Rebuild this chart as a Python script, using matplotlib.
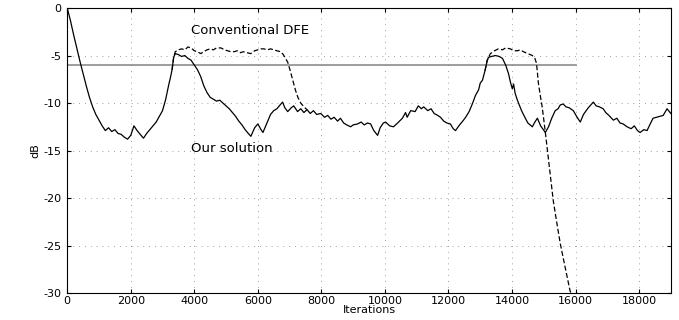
import numpy as np
import matplotlib.pyplot as plt

plt.rcParams['axes.unicode_minus'] = False
plt.rcParams['font.family'] = 'DejaVu Sans'

# "Our solution" curve (iterations, dB)
ours_it = [0, 100, 200, 300, 400, 500, 600, 700, 800, 900, 1000, 1100, 1200, 1300, 1400,
           1500, 1600, 1700, 1800, 1900, 2000, 2100, 2200, 2300, 2400, 2500, 2600, 2700,
           2800, 2900, 3000, 3100, 3200, 3250, 3300, 3350, 3400, 3500, 3600, 3700, 3800,
           3900, 4000, 4100, 4200, 4300, 4400, 4500, 4600, 4700, 4800, 4900, 5000, 5100,
           5200, 5300, 5400, 5500, 5600, 5700, 5780, 5900, 6000, 6100, 6160, 6300, 6400,
           6500, 6600, 6700, 6780, 6850, 6940, 7050, 7130, 7250, 7350, 7450, 7550, 7650,
           7750, 7850, 7980, 8100, 8200, 8300, 8400, 8510, 8600, 8700, 8800, 8920, 9000,
           9140, 9250, 9350, 9450, 9550, 9650, 9770, 9850, 9950, 10020, 10150, 10270,
           10400, 10550, 10650, 10700, 10810, 10950, 11050, 11150, 11220, 11350, 11450,
           11550, 11660, 11750, 11850, 11950, 12060, 12150, 12220, 12350, 12450, 12540,
           12650, 12750, 12850, 12950, 13000, 13070, 13150, 13220, 13260, 13350, 13480,
           13600, 13700, 13800, 13890, 13950, 14010, 14050, 14100, 14170, 14300, 14420,
           14500, 14640, 14720, 14800, 14900, 15050, 15150, 15250, 15360, 15450, 15520,
           15610, 15700, 15800, 15930, 16050, 16150, 16250, 16400, 16560, 16650, 16750,
           16870, 16950, 17050, 17190, 17300, 17400, 17500, 17620, 17750, 17850, 17950,
           18030, 18150, 18250, 18350, 18440, 18550, 18650, 18760, 18880, 19000]
ours_db = [0, -1.3, -2.8, -4.2, -5.6, -6.9, -8.2, -9.4, -10.4, -11.2, -11.8, -12.4, -12.9,
           -12.6, -13.0, -12.8, -13.2, -13.3, -13.6, -13.8, -13.4, -12.4, -12.9, -13.3,
           -13.7, -13.2, -12.8, -12.4, -12.0, -11.4, -10.8, -9.6, -8.0, -7.3, -6.5, -5.2,
           -4.8, -4.9, -5.1, -5.0, -5.3, -5.5, -6.0, -6.5, -7.2, -8.2, -8.9, -9.4, -9.6,
           -9.8, -9.7, -10.0, -10.3, -10.6, -11.0, -11.4, -11.9, -12.3, -12.8, -13.2, -13.5,
           -12.6, -12.2, -12.8, -13.1, -12.0, -11.2, -10.8, -10.6, -10.2, -9.9, -10.5,
           -10.9, -10.5, -10.3, -10.9, -10.6, -11.0, -10.7, -11.1, -10.8, -11.2, -11.1,
           -11.5, -11.3, -11.7, -11.5, -11.9, -11.6, -12.1, -12.3, -12.5, -12.3, -12.2,
           -12.0, -12.3, -12.1, -12.2, -12.9, -13.4, -12.6, -12.1, -12.0, -12.4, -12.5,
           -12.1, -11.6, -11.0, -11.5, -10.8, -10.9, -10.3, -10.6, -10.4, -10.8, -10.6,
           -11.1, -11.3, -11.5, -11.9, -12.1, -12.2, -12.7, -12.9, -12.3, -11.9, -11.5,
           -10.9, -10.1, -9.2, -8.6, -7.9, -7.6, -6.6, -5.5, -5.2, -5.1, -5.0, -5.1, -5.3,
           -6.0, -6.9, -7.8, -8.5, -8.0, -9.0, -9.7, -10.8, -11.6, -12.1, -12.5, -12.0,
           -11.6, -12.4, -13.1, -12.5, -11.6, -10.8, -10.6, -10.2, -10.1, -10.4, -10.5,
           -10.8, -11.5, -12.0, -11.2, -10.5, -9.9, -10.3, -10.4, -10.6, -11.0, -11.3,
           -11.8, -11.6, -12.1, -12.2, -12.5, -12.7, -12.4, -12.9, -13.1, -12.8, -12.9,
           -12.2, -11.6, -11.5, -11.4, -11.3, -10.6, -11.1]

# Conventional DFE, where it departs from our solution
dfe1_it = [3300, 3350, 3400, 3500, 3600, 3700, 3800, 3900, 4000, 4100, 4200, 4300, 4400,
           4500, 4600, 4700, 4840, 4950, 5050, 5150, 5250, 5350, 5450, 5550, 5650, 5780,
           5900, 6000, 6100, 6190, 6300, 6400, 6500, 6600, 6720, 6800, 6870, 6940, 7020,
           7100, 7180, 7260, 7350, 7450, 7550]
dfe1_db = [-6.5, -5.2, -4.6, -4.4, -4.3, -4.4, -4.1, -4.2, -4.5, -4.6, -4.8, -4.6, -4.4,
           -4.3, -4.4, -4.2, -4.2, -4.4, -4.5, -4.6, -4.6, -4.5, -4.7, -4.6, -4.7, -4.8,
           -4.5, -4.4, -4.3, -4.3, -4.4, -4.3, -4.4, -4.5, -4.6, -4.9, -5.3, -5.7, -6.6,
           -7.6, -8.6, -9.4, -10.0, -10.4, -10.7]
dfe2_it = [13150, 13220, 13320, 13450, 13570, 13700, 13800, 13950, 14050, 14170, 14260,
           14360, 14500, 14640, 14720, 14770, 14800, 14830, 14890, 14950, 15050, 15140,
           15220, 15300, 15410, 15520, 15680, 15830, 15860]
dfe2_db = [-6.6, -5.5, -4.8, -4.5, -4.3, -4.4, -4.2, -4.3, -4.5, -4.5, -4.4, -4.6, -4.8,
           -5.0, -5.3, -5.8, -6.8, -7.9, -9.2, -10.4, -13.1, -15.7, -18.0, -20.3, -22.6,
           -24.8, -27.4, -29.8, -30.0]

threshold = -6
threshold_end = 16000

fig = plt.figure(figsize=(6.79, 3.2), dpi=100)
ax = fig.add_axes([0.099, 0.084, 0.889, 0.891])

ax.plot([0, threshold_end], [threshold, threshold], color='0.55', lw=1.2)
ax.plot(ours_it, ours_db, color='black', lw=0.9)
ax.plot(dfe1_it, dfe1_db, color='black', lw=0.9, linestyle=(0, (4, 2)))
ax.plot(dfe2_it, dfe2_db, color='black', lw=0.9, linestyle=(0, (4, 2)))

ax.text(3900, -2.4, 'Conventional DFE', fontsize=9.5, va='center')
ax.text(3900, -14.8, 'Our solution', fontsize=9.5, va='center')

ax.set_xlim(0, 19000)
ax.set_ylim(-30, 0)
ax.set_xticks(np.arange(0, 19000, 2000))
ax.set_yticks(np.arange(-30, 1, 5))
ax.grid(True, color='0.5', lw=0.6, linestyle=(0, (1, 6)))
ax.tick_params(direction='in', top=True, right=True, labelsize=8, length=3)
ax.tick_params(axis='x', pad=2)
ax.tick_params(axis='y', pad=4)
for s in ax.spines.values():
    s.set_linewidth(0.8)

ax.set_xlabel('Iterations', fontsize=8, labelpad=-1)
ax.set_ylabel('dB', fontsize=8, labelpad=2)

fig.savefig('out.png', dpi=100)
